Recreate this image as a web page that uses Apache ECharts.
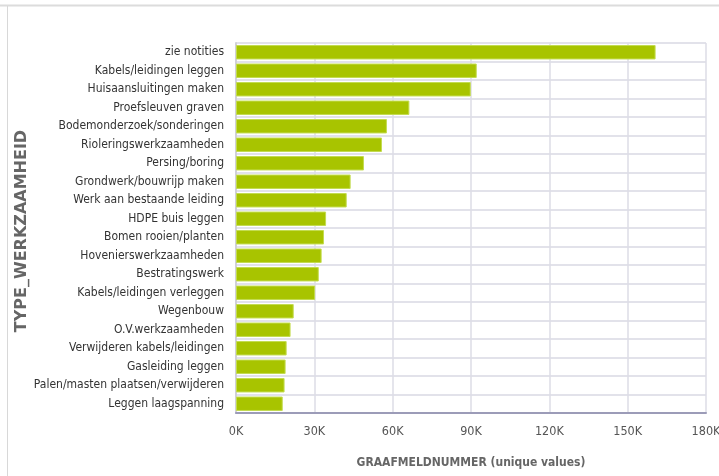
<!DOCTYPE html>
<html>
<head>
<meta charset="utf-8">
<script src="https://cdn.jsdelivr.net/npm/echarts@6/dist/echarts.min.js"></script>
<style>
  html, body { margin: 0; padding: 0; background: #fff; }
  #chart { width: 719px; height: 476px; }
</style>
</head>
<body>
<div id="chart"></div>
<script>
// werkzaamheden, van groot naar klein (bovenaan = grootste)
const categories = [
    'zie notities', 'Kabels/leidingen leggen', 'Huisaansluitingen maken', 'Proefsleuven graven',
    'Bodemonderzoek/sonderingen', 'Rioleringswerkzaamheden', 'Persing/boring', 'Grondwerk/bouwrijp maken',
    'Werk aan bestaande leiding', 'HDPE buis leggen', 'Bomen rooien/planten', 'Hovenierswerkzaamheden',
    'Bestratingswerk', 'Kabels/leidingen verleggen', 'Wegenbouw', 'O.V.werkzaamheden',
    'Verwijderen kabels/leidingen', 'Gasleiding leggen', 'Palen/masten plaatsen/verwijderen', 'Leggen laagspanning'
];
const uniqueCounts = [
    160700, 92200, 89900, 66400, 57800, 55900, 49000, 43900, 42400, 34500,
    33700, 32800, 31700, 30300, 22100, 20900, 19400, 19000, 18600, 17900
];
const xTicks = [0, 30000, 60000, 90000, 120000, 150000, 180000];

const narrow = "'Liberation Sans Narrow', 'DejaVu Sans Condensed', sans-serif";
const chart = echarts.init(document.getElementById('chart'));

chart.setOption({
    animation: false,
    // kader: lijn boven en links
    graphic: [
        { type: 'line', shape: { x1: 0, y1: 5.5, x2: 719, y2: 5.5 }, style: { stroke: '#dcdcdc', lineWidth: 2 } },
        { type: 'line', shape: { x1: 7.5, y1: 6, x2: 7.5, y2: 476 }, style: { stroke: '#d8d8d8', lineWidth: 1 } },
        // as-titel links (gedraaid)
        {
            type: 'text', x: 22, y: 231, rotation: Math.PI / 2,
            style: {
                text: 'TYPE_WERKZAAMHEID', fill: '#666', align: 'center', verticalAlign: 'middle',
                font: 'bold 16px "DejaVu Sans", sans-serif'
            }
        }
    ],
    grid: { left: 236, right: 13, top: 43, bottom: 63, outerBoundsMode: 'none', containLabel: false },
    xAxis: {
        type: 'value',
        min: xTicks[0],
        max: xTicks[xTicks.length - 1],
        interval: xTicks[1] - xTicks[0],
        name: 'GRAAFMELDNUMMER (unique values)',
        nameLocation: 'middle',
        nameGap: 44,
        nameTextStyle: { fontFamily: narrow, fontSize: 12, fontWeight: 'bold', color: '#666' },
        axisLine: { show: true, lineStyle: { color: '#9c9cb8', width: 2 } },
        axisTick: { show: false },
        axisLabel: {
            fontFamily: narrow, fontSize: 12.5, color: '#555', margin: 12,
            formatter: v => (v / 1000) + 'K'
        },
        splitLine: { show: true, lineStyle: { color: '#dcdce6', width: 1.5 } }
    },
    yAxis: {
        type: 'category',
        data: categories,
        inverse: true,
        axisLine: { show: true, lineStyle: { color: '#d0d0d8', width: 2 } },
        axisTick: { show: false },
        axisLabel: { fontFamily: narrow, fontSize: 12, color: '#333', margin: 12 },
        splitLine: { show: true, lineStyle: { color: '#e2e2ea', width: 2 } }
    },
    series: [{
        type: 'bar',
        data: uniqueCounts,
        barCategoryGap: '22%',
        itemStyle: { color: '#a8c400', borderColor: '#c4dc50', borderWidth: 1 }
    }]
});
</script>
</body>
</html>
